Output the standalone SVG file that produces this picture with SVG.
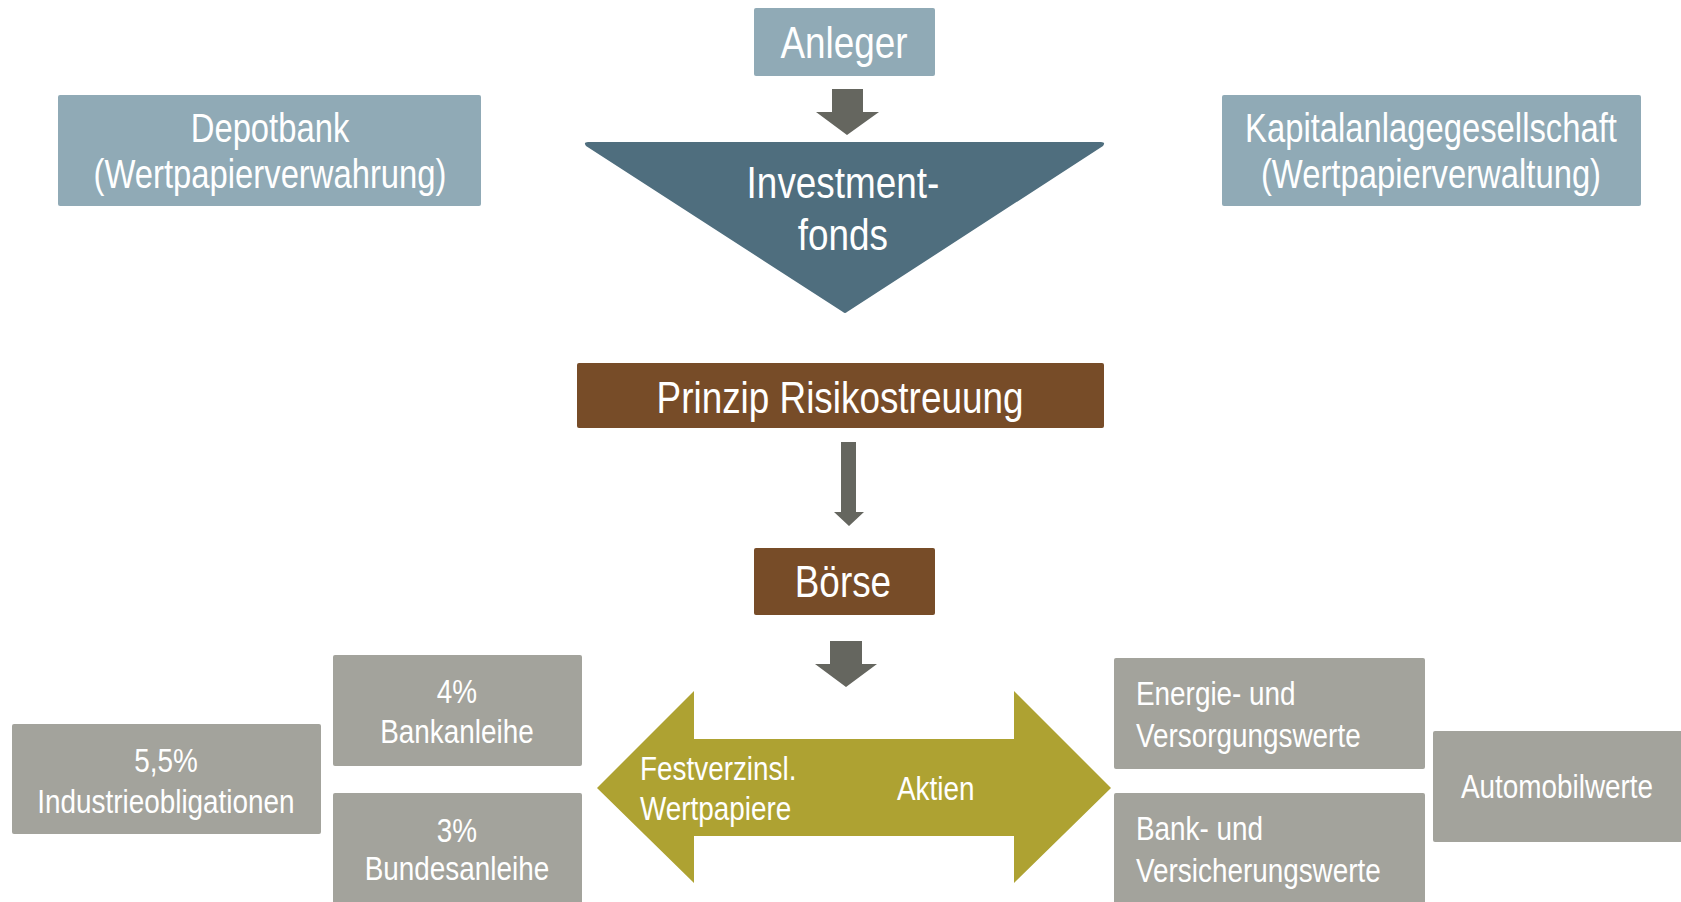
<svg xmlns="http://www.w3.org/2000/svg" width="1681" height="902" viewBox="0 0 1681 902">
<defs>
<style>
text{font-family:"Liberation Sans",Arial,sans-serif;fill:#ffffff;}
.c{text-anchor:middle;}
.big{font-size:45px;}
.mid{font-size:40px;}
.sm{font-size:34px;}
.blue{fill:#90AAB6;}
.brown{fill:#774C28;}
.grey{fill:#A3A39C;}
.arr{fill:#65665F;}
.olive{fill:#AEA232;}
</style>
</defs>
<rect width="1681" height="902" fill="#ffffff"/>
<g id="connectors">
<polygon class="arr" points="832,89 863,89 863,112 879,112 847,135 816,112 832,112"/>
<polygon class="arr" points="841,442 856,442 856,512 864,512 849,526 834,512 841,512"/>
<polygon class="arr" points="830,641 862,641 862,664 877,664 846,687 815,664 830,664"/>
</g>
<g id="anleger">
<rect class="blue" x="754" y="8" width="181" height="68" rx="2"/>
<text class="c big" transform="scale(0.82 1)" x="1029.3" y="58">Anleger</text>
</g>
<g id="depotbank">
<rect class="blue" x="58" y="95" width="423" height="111" rx="2"/>
<text class="c mid" transform="scale(0.82 1)" x="329.3" y="142">Depotbank</text>
<text class="c mid" transform="scale(0.82 1)" x="329.3" y="188">(Wertpapierverwahrung)</text>
</g>
<g id="kag">
<rect class="blue" x="1222" y="95" width="419" height="111" rx="2"/>
<text class="c mid" transform="scale(0.82 1)" x="1745.1" y="142">Kapitalanlagegesellschaft</text>
<text class="c mid" transform="scale(0.82 1)" x="1745.1" y="188">(Wertpapierverwaltung)</text>
</g>
<g id="investmentfonds">
<path d="M588,142 L1101,142 Q1106,142 1103,146 L847,312 Q845,314 843,312 L586,146 Q583,142 588,142 Z" fill="#4F6E7E"/>
<text class="c big" transform="scale(0.82 1)" x="1028.0" y="198">Investment-</text>
<text class="c big" transform="scale(0.82 1)" x="1028.0" y="250">fonds</text>
</g>
<g id="prinzip">
<rect class="brown" x="577" y="363" width="527" height="65" rx="2"/>
<text class="c big" transform="scale(0.82 1)" x="1024.4" y="413">Prinzip Risikostreuung</text>
</g>
<g id="boerse">
<rect class="brown" x="754" y="548" width="181" height="67" rx="2"/>
<text class="c big" transform="scale(0.82 1)" x="1028.0" y="597">Börse</text>
</g>
<g id="festverzinsl">
<polygon class="olive" points="597,788 694,691 694,739 848,739 848,836 694,836 694,883"/>
<text class="sm" transform="scale(0.82 1)" x="780.5" y="780">Festverzinsl.</text>
<text class="sm" transform="scale(0.82 1)" x="780.5" y="820">Wertpapiere</text>
</g>
<g id="aktien">
<polygon class="olive" points="846,739 1014,739 1014,691 1111,788 1014,883 1014,836 846,836"/>
<text class="sm" transform="scale(0.82 1)" x="1093.9" y="800">Aktien</text>
</g>
<g id="bankanleihe">
<rect class="grey" x="333" y="655" width="249" height="111" rx="2"/>
<text class="c sm" transform="scale(0.82 1)" x="557.3" y="703">4%</text>
<text class="c sm" transform="scale(0.82 1)" x="557.3" y="743">Bankanleihe</text>
</g>
<g id="industrie">
<rect class="grey" x="12" y="724" width="309" height="110" rx="2"/>
<text class="c sm" transform="scale(0.82 1)" x="202.4" y="772">5,5%</text>
<text class="c sm" transform="scale(0.82 1)" x="202.4" y="813">Industrieobligationen</text>
</g>
<g id="bundesanleihe">
<rect class="grey" x="333" y="793" width="249" height="115" rx="2"/>
<text class="c sm" transform="scale(0.82 1)" x="557.3" y="842">3%</text>
<text class="c sm" transform="scale(0.82 1)" x="557.3" y="880">Bundesanleihe</text>
</g>
<g id="energie">
<rect class="grey" x="1114" y="658" width="311" height="111" rx="2"/>
<text class="sm" transform="scale(0.82 1)" x="1385.4" y="705">Energie- und</text>
<text class="sm" transform="scale(0.82 1)" x="1385.4" y="747">Versorgungswerte</text>
</g>
<g id="bankversicherung">
<rect class="grey" x="1114" y="793" width="311" height="115" rx="2"/>
<text class="sm" transform="scale(0.82 1)" x="1385.4" y="840">Bank- und</text>
<text class="sm" transform="scale(0.82 1)" x="1385.4" y="882">Versicherungswerte</text>
</g>
<g id="automobil">
<rect class="grey" x="1433" y="731" width="252" height="111" rx="2"/>
<text class="c sm" transform="scale(0.82 1)" x="1898.8" y="798">Automobilwerte</text>
</g>
</svg>
